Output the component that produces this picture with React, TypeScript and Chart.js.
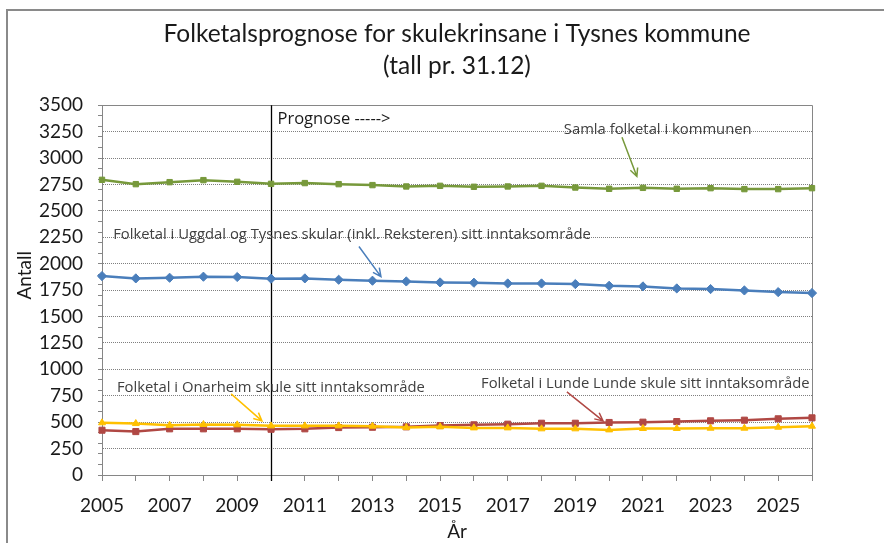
import React, { useEffect, useRef } from 'react';
import { Chart, registerables } from 'chart.js';

Chart.register(...registerables);

const FONT = 'Lato, "Noto Sans", sans-serif';
const NOTE_FONT = '"Open Sans", "Noto Sans", sans-serif';

const years = [2005, 2006, 2007, 2008, 2009, 2010, 2011, 2012, 2013, 2014, 2015, 2016, 2017, 2018, 2019, 2020, 2021, 2022, 2023, 2024, 2025, 2026];
const xTickLabels = ['2005', '2007', '2009', '2011', '2013', '2015', '2017', '2019', '2021', '2023', '2025'];

const samla = [2794, 2753, 2772, 2791, 2775, 2756, 2763, 2753, 2744, 2731, 2737, 2728, 2731, 2737, 2721, 2709, 2718, 2709, 2715, 2706, 2706, 2715];
const uggdal = [1883, 1861, 1867, 1877, 1874, 1858, 1861, 1848, 1839, 1832, 1823, 1820, 1813, 1813, 1807, 1791, 1785, 1766, 1760, 1747, 1731, 1722];
const onarheim = [494, 487, 471, 478, 475, 465, 465, 465, 462, 449, 456, 446, 446, 437, 437, 427, 440, 440, 443, 443, 452, 462];
const lunde = [424, 411, 437, 437, 437, 433, 437, 449, 452, 456, 468, 475, 481, 490, 490, 497, 500, 506, 513, 519, 532, 541];

const titleLines = ['Folketalsprognose for skulekrinsane i Tysnes kommune', '(tall pr. 31.12)'];
const yTitle = 'Antall';
const yTitleCentreValue = 1890;
const xTitle = 'År';

const prognoseStartYear = 2010;
const prognoseLabel = 'Prognose ----->';
const prognoseLabelPos = [2010.19, 3320];

// annotation: text, text anchor [year, value], arrow from [year, value] to [year, value], colour
const annotationTexts = [
  'Samla folketal i kommunen',
  'Folketal i Uggdal og Tysnes skular (inkl. Reksteren) sitt inntaksområde',
  'Folketal i Onarheim skule sitt inntaksområde',
  'Folketal i Lunde Lunde skule sitt inntaksområde',
];
const annotationAnchors = [
  [2018.66, 3231],
  [2005.33, 2238],
  [2005.44, 790],
  [2016.21, 822],
];
const annotationArrows = [
  [2020.38, 3196, 2020.82, 2826],
  [2012.6, 2163, 2013.25, 1878],
  [2008.82, 768, 2009.73, 512],
  [2018.75, 787, 2019.82, 512],
];

const GREEN = '#77993B';
const BLUE = '#4A7EBB';
const RED = '#B04844';
const YELLOW = '#FFC000';
const annotationColors = [GREEN, BLUE, YELLOW, RED];

const AXIS = '#868686';
const TEXT = '#1a1a1a';

const toPoints = (vals: number[]) => years.map((x, i) => ({ x, y: vals[i] }));

const overlayPlugin = {
  id: 'overlay',
  beforeDatasetsDraw(chart: any) {
    const { ctx, chartArea: a, scales } = chart;
    const xs = scales.x;
    const ys = scales.y;
    ctx.save();
    // frame top & right
    ctx.strokeStyle = AXIS;
    ctx.lineWidth = 1;
    ctx.beginPath();
    ctx.moveTo(a.left, Math.round(a.top) + 0.5);
    ctx.lineTo(Math.round(a.right) + 0.5, Math.round(a.top) + 0.5);
    ctx.lineTo(Math.round(a.right) + 0.5, a.bottom);
    ctx.stroke();
    // prognosis divider
    const px = Math.round(xs.getPixelForValue(prognoseStartYear)) + 0.5;
    ctx.strokeStyle = '#000';
    ctx.lineWidth = 1.3;
    ctx.beginPath();
    ctx.moveTo(px, a.top);
    ctx.lineTo(px, a.bottom + 6);
    ctx.stroke();
    ctx.fillStyle = TEXT;
    ctx.font = `16.5px ${NOTE_FONT}`;
    ctx.textAlign = 'left';
    ctx.textBaseline = 'alphabetic';
    ctx.fillText(prognoseLabel, xs.getPixelForValue(prognoseLabelPos[0]), ys.getPixelForValue(prognoseLabelPos[1]));
    // y axis title
    ctx.save();
    ctx.translate(25, ys.getPixelForValue(yTitleCentreValue));
    ctx.rotate(-Math.PI / 2);
    ctx.font = `19px ${FONT}`;
    ctx.textAlign = 'center';
    ctx.textBaseline = 'middle';
    ctx.fillText(yTitle, 0, 0);
    ctx.restore();
    ctx.restore();
  },
  afterDatasetsDraw(chart: any) {
    const { ctx, scales } = chart;
    const xs = scales.x;
    const ys = scales.y;
    ctx.save();
    annotationTexts.forEach((t, i) => {
      ctx.fillStyle = '#404040';
      ctx.font = `14.8px ${NOTE_FONT}`;
      ctx.textAlign = 'left';
      ctx.textBaseline = 'alphabetic';
      ctx.fillText(t, xs.getPixelForValue(annotationAnchors[i][0]), ys.getPixelForValue(annotationAnchors[i][1]));
      const [ax1, ay1, ax2, ay2] = annotationArrows[i];
      const x1 = xs.getPixelForValue(ax1);
      const y1 = ys.getPixelForValue(ay1);
      const x2 = xs.getPixelForValue(ax2);
      const y2 = ys.getPixelForValue(ay2);
      ctx.strokeStyle = annotationColors[i];
      ctx.lineWidth = 1.5;
      ctx.beginPath();
      ctx.moveTo(x1, y1);
      ctx.lineTo(x2, y2);
      const ang = Math.atan2(y2 - y1, x2 - x1);
      const hl = 9;
      const spread = 0.45;
      ctx.moveTo(x2 - hl * Math.cos(ang - spread), y2 - hl * Math.sin(ang - spread));
      ctx.lineTo(x2, y2);
      ctx.lineTo(x2 - hl * Math.cos(ang + spread), y2 - hl * Math.sin(ang + spread));
      ctx.stroke();
    });
    ctx.restore();
  },
};

export default function App() {
  const ref = useRef<HTMLCanvasElement | null>(null);

  useEffect(() => {
    document.body.style.margin = '0';
    if (!ref.current) return;
    Chart.defaults.font.family = FONT;
    const chart = new Chart(ref.current, {
      type: 'line',
      data: {
        datasets: [
          {
            label: 'Samla folketal i kommunen',
            data: toPoints(samla),
            borderColor: GREEN,
            backgroundColor: GREEN,
            borderWidth: 2.5,
            pointStyle: 'rect',
            pointRadius: 3.8,
            pointBorderWidth: 1,
            clip: false,
          },
          {
            label: 'Uggdal og Tysnes',
            data: toPoints(uggdal),
            borderColor: BLUE,
            backgroundColor: BLUE,
            borderWidth: 2.5,
            pointStyle: 'rectRot',
            pointRadius: 4.6,
            pointBorderWidth: 1,
            clip: false,
          },
          {
            label: 'Onarheim',
            data: toPoints(onarheim),
            borderColor: YELLOW,
            backgroundColor: YELLOW,
            borderWidth: 2.5,
            pointStyle: 'triangle',
            pointRadius: 4,
            pointBorderWidth: 1,
            clip: false,
          },
          {
            label: 'Lunde',
            data: toPoints(lunde),
            borderColor: RED,
            backgroundColor: RED,
            borderWidth: 2.5,
            pointStyle: 'rect',
            pointRadius: 4.3,
            pointBorderWidth: 1,
            clip: false,
          },
        ],
      },
      options: {
        animation: false,
        responsive: false,
        maintainAspectRatio: false,
        layout: { padding: { left: 0, top: 0, right: 72, bottom: 0 } },
        plugins: {
          legend: { display: false },
          tooltip: { enabled: false },
          title: {
            display: true,
            fullSize: false,
            text: titleLines,
            color: TEXT,
            font: { family: FONT, size: 24.5, weight: 'normal', lineHeight: 1.27 },
            padding: { top: 19, bottom: 24 },
          },
        },
        scales: {
          x: {
            type: 'linear',
            min: 2005,
            max: 2026,
            ticks: {
              stepSize: 1,
              autoSkip: false,
              maxRotation: 0,
              minRotation: 0,
              padding: 13,
              color: TEXT,
              font: { family: FONT, size: 19 },
              callback: (v: any) => (xTickLabels.includes(String(v)) ? String(v) : ''),
            },
            grid: { drawOnChartArea: false, drawTicks: true, tickLength: 6, tickColor: AXIS, tickWidth: 1 },
            border: { display: true, color: AXIS, width: 1 },
            title: {
              display: true,
              text: xTitle,
              color: TEXT,
              font: { family: FONT, size: 19, lineHeight: 1.2 },
              padding: { top: 0, bottom: 0 },
            },
            afterFit: (s: any) => {
              s.height = 68;
            },
          },
          y: {
            type: 'linear',
            position: 'left',
            weight: 1,
            min: 0,
            max: 3500,
            ticks: {
              stepSize: 250,
              padding: 19,
              color: TEXT,
              font: { family: FONT, size: 19 },
              callback: (v: any) => String(v),
            },
            grid: { color: '#7f7f7f', lineWidth: 1, drawTicks: false },
            border: { display: true, color: AXIS, width: 1, dash: [1, 1] },
            title: { display: false },
            afterFit: (s: any) => {
              s.width = 102;
            },
          },
          yMinor: {
            type: 'linear',
            position: 'left',
            weight: 0,
            min: 0,
            max: 3500,
            ticks: { display: false, stepSize: 100 },
            grid: { drawOnChartArea: false, drawTicks: true, tickLength: 4, tickColor: AXIS },
            border: { display: false },
            afterFit: (s: any) => {
              s.width = 0;
            },
          },
        },
      } as any,
      plugins: [overlayPlugin],
    });
    return () => chart.destroy();
  }, []);

  return (
    <div style={{ position: 'fixed', left: 0, top: 0, width: 884, height: 543, overflow: 'hidden', background: '#fff' }}>
      <div
        style={{
          position: 'absolute',
          left: 6,
          top: 9,
          width: 1000,
          height: 1000,
          borderLeft: '2px solid #8a8a8a',
          borderTop: '2px solid #8a8a8a',
        }}
      />
      <canvas ref={ref} width={884} height={543} style={{ position: 'absolute', left: 0, top: 0, width: 884, height: 543 }} />
    </div>
  );
}
